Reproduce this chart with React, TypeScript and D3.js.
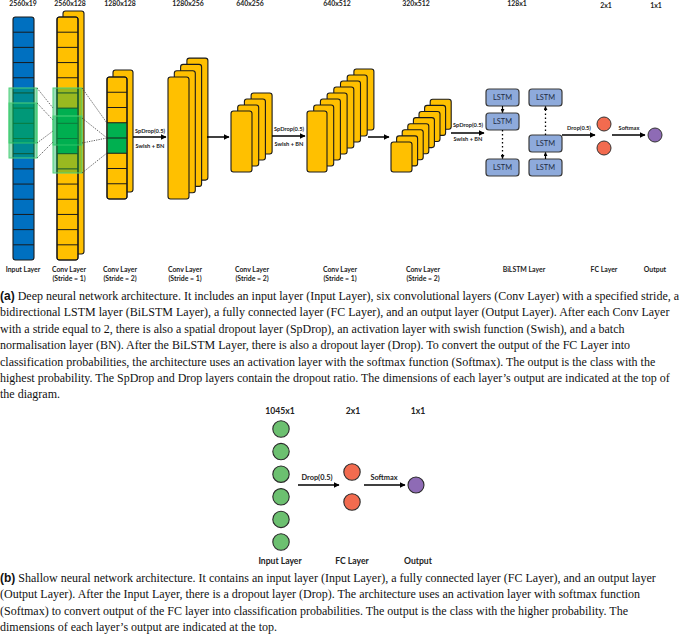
import React from "react";
import * as d3 from "d3";

// ---------------- data ----------------
const topDims = ["2560x19", "2560x128", "1280x128", "1280x256", "640x256", "640x512", "320x512", "128x1", "2x1", "1x1"];
const layerNames = ["Input Layer", "Conv Layer", "Conv Layer", "Conv Layer", "Conv Layer", "Conv Layer", "Conv Layer", "BiLSTM Layer", "FC Layer", "Output"];
const layerStrides = [null, 1, 2, 1, 2, 1, 2, null, null, null];
const convMapCounts = [2, 2, 4, 4, 8, 8];
const inputCellCount = 16;
const conv1CellCount = 16;
const conv2CellCount = 8;
const conv1GreenCells = [6, 7, 8];
const conv2GreenCells = [3, 4];
const spDropText = "SpDrop(0.5)";
const swishText = "Swish + BN";
const dropText = "Drop(0.5)";
const softmaxText = "Softmax";
const lstmText = "LSTM";
const fcNodeCount = 2;
const outNodeCount = 1;
const shallowDims = ["1045x1", "2x1", "1x1"];
const shallowNames = ["Input Layer", "FC Layer", "Output"];
const shallowNodeCounts = [6, 2, 1];
const captionA = [
  " Deep neural network architecture. It includes an input layer (Input Layer), six convolutional layers (Conv Layer) with a specified stride, a",
  "bidirectional LSTM layer (BiLSTM Layer), a fully connected layer (FC Layer), and an output layer (Output Layer). After each Conv Layer",
  "with a stride equal to 2, there is also a spatial dropout layer (SpDrop), an activation layer with swish function (Swish), and a batch",
  "normalisation layer (BN). After the BiLSTM Layer, there is also a dropout layer (Drop). To convert the output of the FC Layer into",
  "classification probabilities, the architecture uses an activation layer with the softmax function (Softmax). The output is the class with the",
  "highest probability. The SpDrop and Drop layers contain the dropout ratio. The dimensions of each layer\u2019s output are indicated at the top of",
  "the diagram.",
];
const captionB = [
  " Shallow neural network architecture. It contains an input layer (Input Layer), a fully connected layer (FC Layer), and an output layer",
  "(Output Layer). After the Input Layer, there is a dropout layer (Drop). The architecture uses an activation layer with softmax function",
  "(Softmax) to convert output of the FC layer into classification probabilities. The output is the class with the higher probability. The",
  "dimensions of each layer\u2019s output are indicated at the top.",
];

// ---------------- layout ----------------
const W = 685;
const H = 634;
const C = {
  blue: "#0070c0",
  yellow: "#ffc000",
  green: "#00b050",
  overlay: "rgba(0,176,80,0.4)",
  overlayStroke: "#4fd27a",
  lstm: "#8eaadb",
  fc: "#f26b4f",
  out: "#8e6bb5",
  node: "#6cc070",
  stroke: "#1a1a1a",
};
const LBL = "Lato, 'Open Sans', sans-serif";
const SERIF = "'Liberation Serif', 'Times New Roman', serif";

const topX = [23, 70, 120, 188, 250, 337, 416, 517, 606, 656];
const topY = [6, 6, 6, 6, 6, 6, 6, 6, 8, 8];
const botX = [23, 69, 120, 185, 252, 340, 423, 524, 604, 655];

const inputGeom = { x: 13, y: 17, w: 21, h: 243 };
const convGeom = [
  { x: 57, y: 17, w: 21, h: 243, dx: 6, dy: -6 },
  { x: 107, y: 77, w: 20, h: 122, dx: 6, dy: -7 },
  { x: 168, y: 77, w: 21, h: 122, dx: 6.3, dy: -6.3 },
  { x: 231, y: 111, w: 21, h: 61, dx: 6.7, dy: -6 },
  { x: 307, y: 111, w: 20, h: 61, dx: 6.7, dy: -6 },
  { x: 391, y: 142, w: 21, h: 30, dx: 5.6, dy: -6.1 },
];
const inputBoxes = [
  { x0: 9, x1: 37, y0: 88, y1: 143 },
  { x0: 9, x1: 37, y0: 103, y1: 158 },
];
const conv1Boxes = [
  { x0: 53, x1: 82, y0: 88, y1: 145 },
  { x0: 53, x1: 82, y0: 116, y1: 173 },
];
const dotted = [
  [37, 88, 53, 108], [37, 103, 53, 120], [37, 143, 53, 131], [37, 158, 53, 142],
  [82, 88, 107, 123], [82, 118, 107, 138], [82, 143, 107, 138], [82, 173, 107, 153],
];
const arrowsA = [
  { x1: 133, x2: 167, y: 137, top: spDropText, bot: swishText, ty: 133, by: 148 },
  { x1: 207, x2: 230, y: 137 },
  { x1: 272, x2: 306, y: 136, top: spDropText, bot: swishText, ty: 131, by: 146 },
  { x1: 368, x2: 390, y: 137 },
  { x1: 451, x2: 485, y: 133, top: spDropText, bot: swishText, ty: 127, by: 141 },
  { x1: 562, x2: 596, y: 135, top: dropText, ty: 130 },
  { x1: 612, x2: 646, y: 135, top: softmaxText, ty: 130 },
];
const lstmCols = [
  { x: 486, ys: [89, 113, 159], dir: 1 },
  { x: 529, ys: [89, 135, 159], dir: -1 },
];
const lstmW = 33;
const lstmH = 17;

function Arrow({ x1, x2, y, w = 1.5 }: { x1: number; x2: number; y: number; w?: number }) {
  return <line x1={x1} x2={x2 - 1} y1={y} y2={y} stroke="#000" strokeWidth={w} markerEnd="url(#ah)" />;
}

function Stack({ g, n, cells, green }: { g: any; n: number; cells?: number; green?: number[] }) {
  const idx = d3.range(n).reverse();
  const band = cells ? d3.scaleBand<number>().domain(d3.range(cells)).range([g.y, g.y + g.h]) : null;
  return (
    <g>
      {idx.map((i) => (
        <rect key={i} x={g.x + i * g.dx} y={g.y + i * g.dy} width={g.w} height={g.h} rx={2.5}
          fill={C.yellow} stroke={C.stroke} strokeWidth={1.1} />
      ))}
      {band &&
        d3.range(cells!).map((c) => (
          <g key={"c" + c}>
            {green && green.includes(c) && (
              <rect x={g.x + 0.5} y={band(c)!} width={g.w - 1} height={band.bandwidth()} fill={C.green} />
            )}
            {c > 0 && <line x1={g.x} x2={g.x + g.w} y1={band(c)!} y2={band(c)!} stroke={C.stroke} strokeWidth={1} />}
          </g>
        ))}
      {band && <rect x={g.x} y={g.y} width={g.w} height={g.h} rx={2.5} fill="none" stroke={C.stroke} strokeWidth={1.1} />}
    </g>
  );
}

export default function App() {
  const inBand = d3.scaleBand<number>().domain(d3.range(inputCellCount)).range([inputGeom.y, inputGeom.y + inputGeom.h]);
  const fcY = d3.scalePoint<number>().domain(d3.range(fcNodeCount)).range([124, 148]);
  const outY = d3.scalePoint<number>().domain(d3.range(outNodeCount)).range([135, 135]);
  const sIn = d3.scaleLinear().domain([0, shallowNodeCounts[0] - 1]).range([429, 542]);
  const sFc = d3.scaleLinear().domain([0, shallowNodeCounts[1] - 1]).range([472, 502]);
  const sX = [281, 352, 416];
  const capA = d3.scaleLinear().domain([0, 1]).range([300, 316.4]);
  const capB = d3.scaleLinear().domain([0, 1]).range([581.5, 598]);

  return (
    <svg width={W} height={H} viewBox={`0 0 ${W} ${H}`} style={{ position: "absolute", left: 0, top: 0, background: "#fff" }}>
      <defs>
        <marker id="ah" viewBox="0 0 10 10" refX="9" refY="5" markerWidth="6" markerHeight="6" markerUnits="userSpaceOnUse" orient="auto">
          <path d="M0,0 L10,5 L0,10 z" fill="#000" />
        </marker>
        <marker id="ahs" viewBox="0 0 10 10" refX="9" refY="5" markerWidth="4" markerHeight="4" markerUnits="userSpaceOnUse" orient="auto">
          <path d="M0,0 L10,5 L0,10 z" fill="#000" />
        </marker>
      </defs>
      <rect width={W} height={H} fill="#fff" />

      {/* top dims */}
      {topDims.map((t, i) => (
        <text key={t + i} x={topX[i]} y={topY[i]} textAnchor="middle" fontFamily={LBL} fontWeight={700} fontSize={6.9} fill="#222">{t}</text>
      ))}

      {/* input layer */}
      <rect x={inputGeom.x} y={inputGeom.y} width={inputGeom.w} height={inputGeom.h} rx={2.5} fill={C.blue} stroke={C.stroke} strokeWidth={1.1} />
      {d3.range(1, inputCellCount).map((c) => (
        <line key={c} x1={inputGeom.x} x2={inputGeom.x + inputGeom.w} y1={inBand(c)!} y2={inBand(c)!} stroke={C.stroke} strokeWidth={1} />
      ))}

      {/* conv layers */}
      {convGeom.map((g, k) => (
        <Stack key={k} g={g} n={convMapCounts[k]}
          cells={k === 0 ? conv1CellCount : k === 1 ? conv2CellCount : undefined}
          green={k === 0 ? conv1GreenCells : k === 1 ? conv2GreenCells : undefined} />
      ))}

      {/* receptive field overlays */}
      {[...inputBoxes, ...conv1Boxes].map((b, i) => (
        <rect key={i} x={b.x0} y={b.y0} width={b.x1 - b.x0} height={b.y1 - b.y0} fill={C.overlay} stroke={C.overlayStroke} strokeWidth={1} />
      ))}
      {dotted.map((d, i) => (
        <line key={i} x1={d[0]} y1={d[1]} x2={d[2]} y2={d[3]} stroke="#333" strokeWidth={0.8} strokeDasharray="1.2,1.2" />
      ))}

      {/* arrows */}
      {arrowsA.map((a, i) => (
        <g key={i}>
          <Arrow x1={a.x1} x2={a.x2} y={a.y} />
          {a.top && (
            <text x={(a.x1 + a.x2) / 2} y={a.ty} textAnchor="middle" fontFamily={LBL} fontWeight={700} fontSize={5.7} fill="#222">{a.top}</text>
          )}
          {a.bot && (
            <text x={(a.x1 + a.x2) / 2} y={a.by} textAnchor="middle" fontFamily={LBL} fontWeight={700} fontSize={5.7} fill="#222">{a.bot}</text>
          )}
        </g>
      ))}

      {/* BiLSTM */}
      {lstmCols.map((col, ci) => (
        <g key={ci}>
          {col.ys.map((y, r) => (
            <g key={r}>
              <rect x={col.x} y={y} width={lstmW} height={lstmH} rx={3} fill={C.lstm} stroke="#3a3a3a" strokeWidth={1.2} />
              <text x={col.x + lstmW / 2} y={y + lstmH / 2 + 2.7} textAnchor="middle" fontFamily={LBL} fontSize={7.4} fill="#1f2a44">{lstmText}</text>
            </g>
          ))}
          {d3.range(col.ys.length - 1).map((r) => {
            const cx = col.x + lstmW / 2;
            const yA = col.ys[r] + lstmH;
            const yB = col.ys[r + 1];
            const shortGap = yB - yA < 12;
            const [y1, y2] = col.dir > 0 ? [yA, yB] : [yB, yA];
            return (
              <line key={r} x1={cx} x2={cx} y1={y1} y2={y2 - col.dir * 0.5} stroke="#000" strokeWidth={shortGap ? 1.2 : 1.3}
                strokeDasharray={shortGap ? undefined : "1.5,2.5"} markerEnd="url(#ahs)" />
            );
          })}
        </g>
      ))}

      {/* FC + output */}
      {d3.range(fcNodeCount).map((i) => (
        <circle key={i} cx={604} cy={fcY(i)!} r={7} fill={C.fc} stroke="#333" strokeWidth={1} />
      ))}
      {d3.range(outNodeCount).map((i) => (
        <circle key={i} cx={655} cy={outY(i)!} r={7} fill={C.out} stroke="#333" strokeWidth={1} />
      ))}

      {/* bottom names */}
      {layerNames.map((t, i) => (
        <g key={i}>
          <text x={botX[i]} y={272} textAnchor="middle" fontFamily={LBL} fontWeight={700} fontSize={6.9} fill="#222">{t}</text>
          {layerStrides[i] != null && (
            <text x={botX[i]} y={281} textAnchor="middle" fontFamily={LBL} fontWeight={700} fontSize={6.9} fill="#222">{`(Stride = ${layerStrides[i]})`}</text>
          )}
        </g>
      ))}

      {/* caption a */}
      {captionA.map((line, i) => (
        <text key={i} x={0} y={capA(i)} fontFamily={SERIF} fontSize={12} fill="#111">
          {i === 0 && <tspan fontFamily="'Liberation Sans', Arial, sans-serif" fontWeight={700}>(a)</tspan>}
          {line}
        </text>
      ))}

      {/* shallow network */}
      {shallowDims.map((t, i) => (
        <text key={t} x={[280, 353, 418][i]} y={414} textAnchor="middle" fontFamily={LBL} fontWeight={700} fontSize={8.6} fill="#222">{t}</text>
      ))}
      {d3.range(shallowNodeCounts[0]).map((i) => (
        <circle key={i} cx={sX[0]} cy={sIn(i)} r={8.2} fill={C.node} stroke="#2a2a2a" strokeWidth={1.1} />
      ))}
      {d3.range(shallowNodeCounts[1]).map((i) => (
        <circle key={i} cx={sX[1]} cy={sFc(i)} r={8.2} fill={C.fc} stroke="#2a2a2a" strokeWidth={1.1} />
      ))}
      {d3.range(shallowNodeCounts[2]).map((i) => (
        <circle key={i} cx={sX[2]} cy={485} r={8} fill={C.out} stroke="#2a2a2a" strokeWidth={1.1} />
      ))}
      <Arrow x1={298} x2={340} y={485} />
      <Arrow x1={364} x2={406} y={485} />
      <text x={317} y={480} textAnchor="middle" fontFamily={LBL} fontWeight={700} fontSize={7.4} fill="#222">{dropText}</text>
      <text x={384} y={480} textAnchor="middle" fontFamily={LBL} fontWeight={700} fontSize={7.4} fill="#222">{softmaxText}</text>
      {shallowNames.map((t, i) => (
        <text key={t} x={[280, 352, 418][i]} y={564} textAnchor="middle" fontFamily={LBL} fontWeight={700} fontSize={8.6} fill="#222">{t}</text>
      ))}

      {/* caption b */}
      {captionB.map((line, i) => (
        <text key={i} x={0} y={capB(i)} fontFamily={SERIF} fontSize={12} fill="#111">
          {i === 0 && <tspan fontFamily="'Liberation Sans', Arial, sans-serif" fontWeight={700}>(b)</tspan>}
          {line}
        </text>
      ))}
    </svg>
  );
}
